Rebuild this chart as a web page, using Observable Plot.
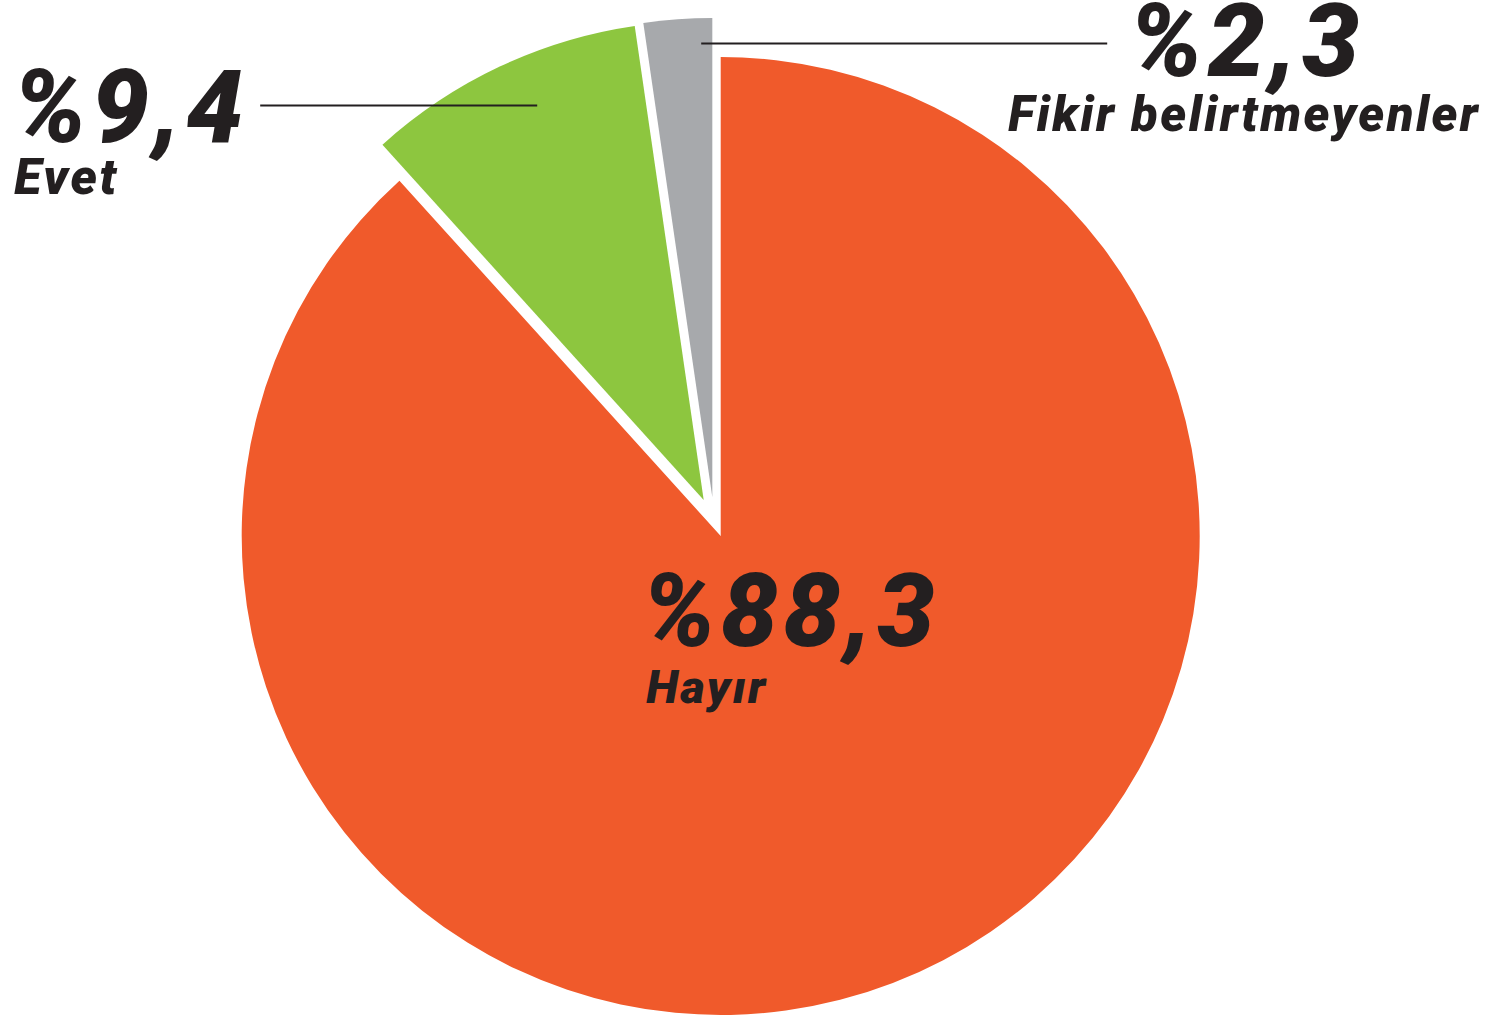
<!DOCTYPE html>
<html>
<head>
<meta charset="utf-8">
<script src="https://cdn.jsdelivr.net/npm/d3@7"></script>
<script src="https://cdn.jsdelivr.net/npm/@observablehq/plot@0.6"></script>
<style>
  html, body { margin: 0; padding: 0; background: #ffffff; }
  #chart svg { display: block; }
  #chart text { letter-spacing: 0.05em; }
</style>
</head>
<body>
<div id="chart"></div>
<script>
// ---------- data ----------
const categories = ["Evet", "Fikir belirtmeyenler", "Hayır"];
const values = [9.4, 2.3, 88.3];
const colors = ["#8DC63F", "#A7A9AC", "#F05A2B"];

// ---------- layout (pixels relative to pie centre) ----------
const W = 1490, H = 1021;
const CX = 720.7, CY = 536, R = 479;
const explode = [[-17, -36], [-8.4, -39], [0, 0]];
const valuePos = [[-708, -395], [408, -461], [-79, 109]];
const namePos = [[-707, -343], [287, -406], [-75, 166]];
const valueSize = [102, 102, 102];
const nameSize = [50, 49, 47];
const leaders = [
  {x1: -461, x2: -184, y: -431},
  {x1: -20, x2: 386, y: -493}
];
const ink = "#231F20";
const font = "Roboto, 'Open Sans', sans-serif";

const fmt = v => "%" + v.toFixed(1).replace(".", ",");

const rows = categories.map((c, i) => ({
  name: c,
  value: values[i],
  label: fmt(values[i]),
  vx: valuePos[i][0], vy: valuePos[i][1],
  nx: namePos[i][0], ny: namePos[i][1],
  vs: valueSize[i], ns: nameSize[i]
}));

const total = d3.sum(values);
const start = -(values[0] + values[1]) / total * 2 * Math.PI;
const arcs = d3.pie().sort(null).value(d => d.value)
  .startAngle(start).endAngle(start + 2 * Math.PI)(rows);

const pieMark = (index, scales) => {
  const {x, y} = scales;
  const r = x(R) - x(0);
  const arcGen = d3.arc().innerRadius(0).outerRadius(r);
  const g = d3.create("svg:g");
  g.selectAll("path")
    .data([arcs[2], arcs[0], arcs[1]])
    .join("path")
    .attr("transform", d => `translate(${x(explode[d.index][0])},${y(explode[d.index][1])})`)
    .attr("d", arcGen)
    .attr("fill", d => colors[d.index]);
  return g.node();
};

const chart = Plot.plot({
  width: W,
  height: H,
  margin: 0,
  style: {background: "#ffffff"},
  x: {domain: [-CX, W - CX], range: [0, W], axis: null},
  y: {domain: [-CY, H - CY], range: [0, H], axis: null},
  marks: [
    pieMark,
    Plot.link(leaders, {x1: "x1", x2: "x2", y1: "y", y2: "y", stroke: ink, strokeWidth: 2}),
    Plot.text(rows, {
      x: "vx", y: "vy", text: "label",
      textAnchor: "start", lineAnchor: "bottom",
      fontSize: d => d.vs, fontWeight: 900, fontStyle: "italic",
      fontFamily: font, fill: ink
    }),
    Plot.text(rows, {
      x: "nx", y: "ny", text: "name",
      textAnchor: "start", lineAnchor: "bottom",
      fontSize: d => d.ns, fontWeight: 900, fontStyle: "italic",
      fontFamily: font, fill: ink
    })
  ]
});

document.getElementById("chart").appendChild(chart);
</script>
</body>
</html>
